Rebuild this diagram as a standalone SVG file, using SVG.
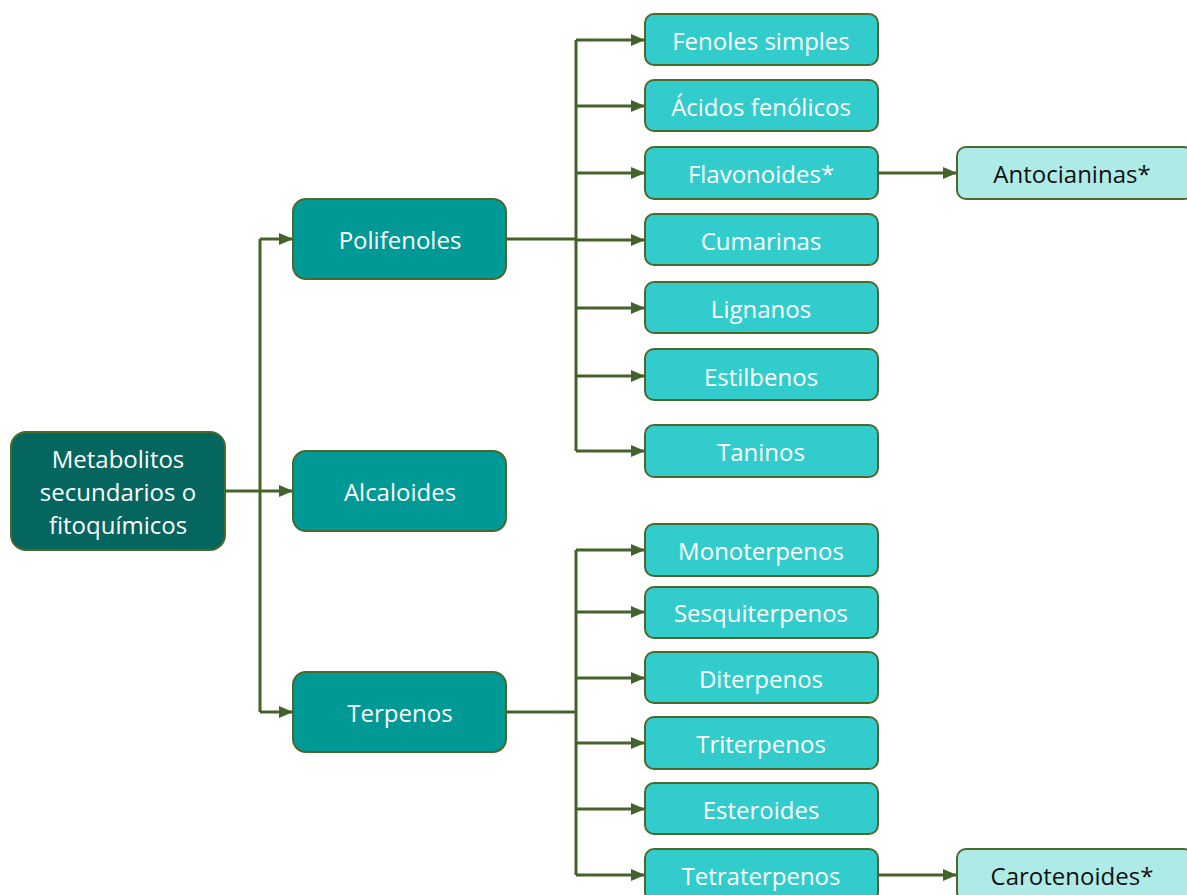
<svg xmlns="http://www.w3.org/2000/svg" width="1187" height="895" viewBox="0 0 1187 895">
  <style>
    .box { stroke: #4a6a2c; stroke-width: 2; }
    .root { fill: #04665f; }
    .l1 { fill: #009995; }
    .l2 { fill: #33cccc; }
    .l3 { fill: #aeebe7; }
    text { font-family: "Open Sans", "Noto Sans", sans-serif; font-size: 24px; text-anchor: middle; dominant-baseline: central; fill: #ffffff; }
    .dark { fill: #111111; }
    .conn { fill: none; stroke: #44632a; stroke-width: 3; }
  </style>
  <defs>
    <marker id="arrow" markerWidth="14" markerHeight="12" refX="13" refY="6" orient="auto" markerUnits="userSpaceOnUse">
      <path d="M0,0 L14,6 L0,12 Z" fill="#44632a"/>
    </marker>
  </defs>
  <rect width="1187" height="895" fill="#ffffff"/>

  <!-- connectors -->
  <g id="connectors">
    <!-- root to first level -->
    <path class="conn" d="M225,491 H292" marker-end="url(#arrow)"/>
    <path class="conn" d="M260,239 V712"/>
    <path class="conn" d="M260,239 H292" marker-end="url(#arrow)"/>
    <path class="conn" d="M260,712 H292" marker-end="url(#arrow)"/>
    <!-- Polifenoles branch -->
    <path class="conn" d="M506,239 H576"/>
    <path class="conn" d="M576,40 V451"/>
    <path class="conn" d="M576,40 H644" marker-end="url(#arrow)"/>
    <path class="conn" d="M576,106 H644" marker-end="url(#arrow)"/>
    <path class="conn" d="M576,173 H644" marker-end="url(#arrow)"/>
    <path class="conn" d="M576,240 H644" marker-end="url(#arrow)"/>
    <path class="conn" d="M576,308 H644" marker-end="url(#arrow)"/>
    <path class="conn" d="M576,376 H644" marker-end="url(#arrow)"/>
    <path class="conn" d="M576,451 H644" marker-end="url(#arrow)"/>
    <!-- Terpenos branch -->
    <path class="conn" d="M506,712 H576"/>
    <path class="conn" d="M576,550 V875"/>
    <path class="conn" d="M576,550 H644" marker-end="url(#arrow)"/>
    <path class="conn" d="M576,612 H644" marker-end="url(#arrow)"/>
    <path class="conn" d="M576,678 H644" marker-end="url(#arrow)"/>
    <path class="conn" d="M576,743 H644" marker-end="url(#arrow)"/>
    <path class="conn" d="M576,809 H644" marker-end="url(#arrow)"/>
    <path class="conn" d="M576,875 H644" marker-end="url(#arrow)"/>
    <!-- third level -->
    <path class="conn" d="M878,173 H956" marker-end="url(#arrow)"/>
    <path class="conn" d="M878,875 H956" marker-end="url(#arrow)"/>
  </g>

  <g id="n-metabolitos">
    <rect class="box root" x="11" y="432" width="214" height="118" rx="15"/>
    <text x="118" y="458">Metabolitos</text>
    <text x="118" y="491">secundarios o</text>
    <text x="118" y="524">fitoquímicos</text>
  </g>

  <g id="n-polifenoles">
    <rect class="box l1" x="293" y="199" width="213" height="80" rx="13"/>
    <text x="400" y="239">Polifenoles</text>
  </g>
  <g id="n-alcaloides">
    <rect class="box l1" x="293" y="451" width="213" height="80" rx="13"/>
    <text x="400" y="491">Alcaloides</text>
  </g>
  <g id="n-terpenos">
    <rect class="box l1" x="293" y="672" width="213" height="80" rx="13"/>
    <text x="400" y="712">Terpenos</text>
  </g>

  <g id="n-fenoles-simples">
    <rect class="box l2" x="645" y="14" width="233" height="51" rx="9"/>
    <text x="761" y="40">Fenoles simples</text>
  </g>
  <g id="n-acidos-fenolicos">
    <rect class="box l2" x="645" y="80" width="233" height="51" rx="9"/>
    <text x="761" y="106">Ácidos fenólicos</text>
  </g>
  <g id="n-flavonoides">
    <rect class="box l2" x="645" y="147" width="233" height="52" rx="9"/>
    <text x="761" y="173">Flavonoides*</text>
  </g>
  <g id="n-cumarinas">
    <rect class="box l2" x="645" y="214" width="233" height="51" rx="9"/>
    <text x="761" y="240">Cumarinas</text>
  </g>
  <g id="n-lignanos">
    <rect class="box l2" x="645" y="282" width="233" height="51" rx="9"/>
    <text x="761" y="308">Lignanos</text>
  </g>
  <g id="n-estilbenos">
    <rect class="box l2" x="645" y="349" width="233" height="51" rx="9"/>
    <text x="761" y="376">Estilbenos</text>
  </g>
  <g id="n-taninos">
    <rect class="box l2" x="645" y="425" width="233" height="52" rx="9"/>
    <text x="761" y="451">Taninos</text>
  </g>

  <g id="n-monoterpenos">
    <rect class="box l2" x="645" y="524" width="233" height="52" rx="9"/>
    <text x="761" y="550">Monoterpenos</text>
  </g>
  <g id="n-sesquiterpenos">
    <rect class="box l2" x="645" y="587" width="233" height="51" rx="9"/>
    <text x="761" y="612">Sesquiterpenos</text>
  </g>
  <g id="n-diterpenos">
    <rect class="box l2" x="645" y="652" width="233" height="51" rx="9"/>
    <text x="761" y="678">Diterpenos</text>
  </g>
  <g id="n-triterpenos">
    <rect class="box l2" x="645" y="717" width="233" height="52" rx="9"/>
    <text x="761" y="743">Triterpenos</text>
  </g>
  <g id="n-esteroides">
    <rect class="box l2" x="645" y="783" width="233" height="51" rx="9"/>
    <text x="761" y="809">Esteroides</text>
  </g>
  <g id="n-tetraterpenos">
    <rect class="box l2" x="645" y="849" width="233" height="52" rx="9"/>
    <text x="761" y="875">Tetraterpenos</text>
  </g>

  <g id="n-antocianinas">
    <rect class="box l3" x="957" y="147" width="236" height="52" rx="9"/>
    <text class="dark" x="1072" y="173">Antocianinas*</text>
  </g>
  <g id="n-carotenoides">
    <rect class="box l3" x="957" y="849" width="236" height="52" rx="9"/>
    <text class="dark" x="1072" y="875">Carotenoides*</text>
  </g>
</svg>
